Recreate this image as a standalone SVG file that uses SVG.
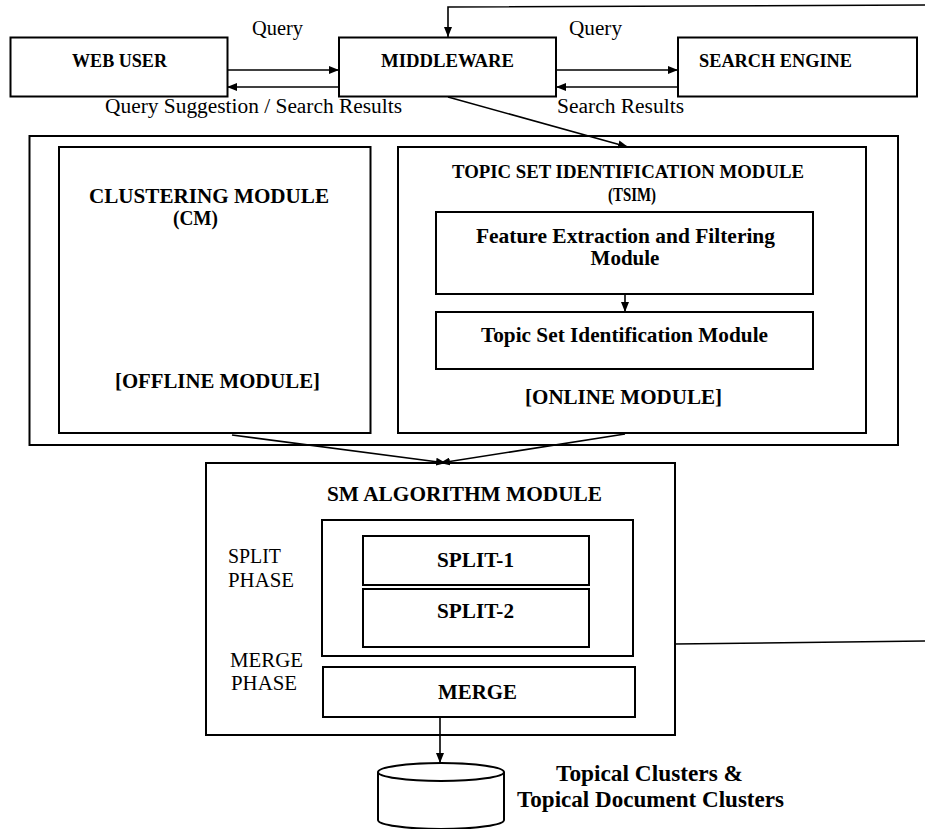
<svg xmlns="http://www.w3.org/2000/svg" width="925" height="829" viewBox="0 0 925 829">
<defs>
<style>
.box{fill:#fff;stroke:#000;stroke-width:2}
.ln{fill:none;stroke:#000;stroke-width:1.6}
.r{font-family:"Liberation Serif","Times New Roman",serif;font-size:20px;fill:#000}
.b{font-family:"Liberation Serif","Times New Roman",serif;font-size:19px;font-weight:bold;fill:#000}
.bi{font-family:"Liberation Serif","Times New Roman",serif;font-size:21px;font-weight:bold;fill:#000}
.bb{font-family:"Liberation Serif","Times New Roman",serif;font-size:23.5px;font-weight:bold;fill:#000}
</style>
<marker id="ah" viewBox="0 0 10 8" refX="10" refY="4" markerWidth="10" markerHeight="8" markerUnits="userSpaceOnUse" orient="auto">
<path d="M0,0 L10,4 L0,8 z" fill="#000"/>
</marker>
</defs>
<rect width="925" height="829" fill="#fff"/>

<g id="web-user">
<rect class="box" x="10.5" y="37.5" width="217" height="59"/>
<text class="b" x="72" y="67" textLength="95" lengthAdjust="spacingAndGlyphs">WEB USER</text>
</g>
<g id="middleware">
<rect class="box" x="339" y="37.5" width="217" height="59"/>
<text class="b" x="381" y="67" textLength="133" lengthAdjust="spacingAndGlyphs">MIDDLEWARE</text>
</g>
<g id="search-engine">
<rect class="box" x="678" y="37.5" width="239" height="59"/>
<text class="b" x="699" y="67" textLength="153" lengthAdjust="spacingAndGlyphs">SEARCH ENGINE</text>
</g>

<g id="outer-module">
<rect class="box" x="29.5" y="136" width="868.5" height="309"/>
</g>
<g id="clustering-module">
<rect class="box" x="59" y="147" width="311.5" height="286"/>
<text class="bi" x="89" y="203" textLength="240" lengthAdjust="spacingAndGlyphs">CLUSTERING MODULE</text>
<text class="bi" x="173" y="225" textLength="45" lengthAdjust="spacingAndGlyphs">(CM)</text>
<text class="bi" x="115" y="388" textLength="205" lengthAdjust="spacingAndGlyphs">[OFFLINE MODULE]</text>
</g>
<g id="tsim">
<rect class="box" x="398" y="147" width="468" height="286"/>
<text class="b" x="452" y="178" font-size="18.5" textLength="352" lengthAdjust="spacingAndGlyphs">TOPIC SET IDENTIFICATION MODULE</text>
<text class="b" x="608" y="201" font-size="18.5" textLength="48" lengthAdjust="spacingAndGlyphs">(TSIM)</text>
<text class="bi" x="525" y="404" textLength="197" lengthAdjust="spacingAndGlyphs">[ONLINE MODULE]</text>
</g>
<g id="feature-extraction">
<rect class="box" x="436" y="212" width="377" height="82"/>
<text class="bi" x="476" y="243" textLength="299" lengthAdjust="spacingAndGlyphs">Feature Extraction and Filtering</text>
<text class="bi" x="625" y="265" text-anchor="middle">Module</text>
</g>
<g id="topic-set-identification">
<rect class="box" x="436" y="312" width="377" height="57"/>
<text class="bi" x="481" y="342" textLength="287" lengthAdjust="spacingAndGlyphs">Topic Set Identification Module</text>
</g>

<g id="sm-algorithm">
<rect class="box" x="206" y="463" width="469" height="272"/>
<text class="bi" x="327" y="501" textLength="275" lengthAdjust="spacingAndGlyphs">SM ALGORITHM MODULE</text>
<text class="r" x="228" y="563" textLength="53" lengthAdjust="spacingAndGlyphs">SPLIT</text>
<text class="r" x="228" y="587" textLength="66" lengthAdjust="spacingAndGlyphs">PHASE</text>
<text class="r" x="230" y="667" textLength="73" lengthAdjust="spacingAndGlyphs">MERGE</text>
<text class="r" x="231" y="690" textLength="66" lengthAdjust="spacingAndGlyphs">PHASE</text>
</g>
<g id="split-phase">
<rect class="box" x="322" y="520" width="311" height="136"/>
</g>
<g id="split-1">
<rect class="box" x="363" y="536" width="226" height="49"/>
<text class="bi" x="437" y="567" textLength="77" lengthAdjust="spacingAndGlyphs">SPLIT-1</text>
</g>
<g id="split-2">
<rect class="box" x="363" y="589" width="226" height="58"/>
<text class="bi" x="437" y="618" textLength="77" lengthAdjust="spacingAndGlyphs">SPLIT-2</text>
</g>
<g id="merge">
<rect class="box" x="323" y="667" width="312" height="50"/>
<text class="bi" x="438" y="699" textLength="79" lengthAdjust="spacingAndGlyphs">MERGE</text>
</g>

<g id="topical-clusters-db">
<path class="box" d="M378,772 L378,820 A63,9 0 0 0 504,820 L504,772"/>
<ellipse class="box" cx="441" cy="772" rx="63" ry="9"/>
<text class="bb" x="556" y="781" textLength="187" lengthAdjust="spacingAndGlyphs">Topical Clusters &amp;</text>
<text class="bb" x="517" y="807" textLength="267" lengthAdjust="spacingAndGlyphs">Topical Document Clusters</text>
</g>

<g id="connectors">
<line class="ln" x1="227" y1="70" x2="339" y2="70" marker-end="url(#ah)"/>
<line class="ln" x1="339" y1="87" x2="227" y2="87" marker-end="url(#ah)"/>
<line class="ln" x1="556" y1="70" x2="678" y2="70" marker-end="url(#ah)"/>
<line class="ln" x1="678" y1="87" x2="556" y2="87" marker-end="url(#ah)"/>
<polyline class="ln" points="925,5 448,7 448,37" marker-end="url(#ah)"/>
<line class="ln" x1="448" y1="97" x2="628" y2="147" marker-end="url(#ah)"/>
<line class="ln" x1="625" y1="294" x2="625" y2="312" marker-end="url(#ah)"/>
<line class="ln" x1="232" y1="435" x2="446" y2="463" marker-end="url(#ah)"/>
<line class="ln" x1="625" y1="434" x2="440" y2="463" marker-end="url(#ah)"/>
<line class="ln" x1="675" y1="644" x2="925" y2="641"/>
<line class="ln" x1="440" y1="717" x2="440" y2="763" marker-end="url(#ah)"/>
<text class="r" x="252" y="35" textLength="51" lengthAdjust="spacingAndGlyphs">Query</text>
<text class="r" x="569" y="35" textLength="53" lengthAdjust="spacingAndGlyphs">Query</text>
<text class="r" x="105" y="113" textLength="297" lengthAdjust="spacingAndGlyphs">Query Suggestion / Search Results</text>
<text class="r" x="557" y="113" textLength="127" lengthAdjust="spacingAndGlyphs">Search Results</text>
</g>
</svg>
